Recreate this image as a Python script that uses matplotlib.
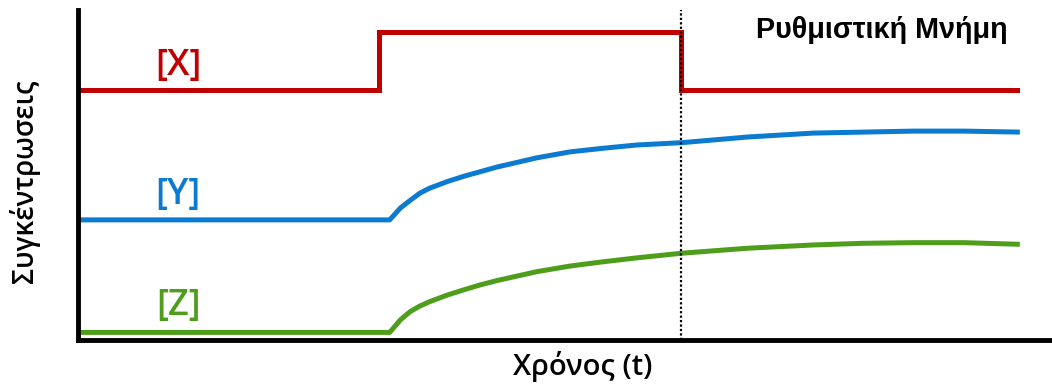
import matplotlib
matplotlib.use("Agg")
import matplotlib.pyplot as plt

# ---- data ----
x_time = [0.0, 30.9, 30.9, 61.9, 61.9, 96.4]
x_conc = [75.8, 75.8, 93.4, 93.4, 75.8, 75.8]

yz_time = [0.0, 32.0, 33.1, 34.1, 35.1, 36.1, 37.9, 39.6, 41.3, 43.0, 47.1,
           50.5, 53.9, 57.4, 62.0, 68.7, 75.5, 80.6, 85.8, 90.9, 96.7]
y_conc = [36.4, 36.4, 40.0, 42.3, 44.5, 46.0, 48.0, 49.6, 51.0, 52.4, 55.2,
          57.0, 58.1, 59.1, 59.8, 61.5, 62.7, 63.0, 63.3, 63.3, 63.0]
z_conc = [2.3, 2.3, 6.1, 8.6, 10.3, 11.6, 13.6, 15.2, 16.7, 18.0, 20.7,
          22.4, 23.7, 24.9, 26.3, 27.8, 28.8, 29.3, 29.5, 29.5, 29.0]

memory_time = 61.9
labels = ["[X]", "[Y]", "[Z]"]
colors = ["#C00000", "#0A7BD0", "#4E9E1C"]

title = "Ρυθμιστική Μνήμη"
xlabel = "Χρόνος (t)"
ylabel = "Συγκέντρωσεις"

plt.rcParams['font.family'] = ['Open Sans', 'DejaVu Sans']

fig = plt.figure(figsize=(10.52, 3.86), dpi=100)
ax = fig.add_axes([78/1052, 46/386, 974/1052, 330/386])
ax.set_xlim(0, 100)
ax.set_ylim(0, 100)

lw = 3.6
ax.plot(x_time, x_conc, color=colors[0], lw=lw, solid_joinstyle='miter')
ax.plot(yz_time, y_conc, color=colors[1], lw=lw, solid_capstyle='butt')
ax.plot(yz_time, z_conc, color=colors[2], lw=lw, solid_capstyle='butt')
ax.axvline(memory_time, color='black', lw=1.6, ls=(0, (1, 1)), zorder=5)

label_y = [83.0, 43.9, 10.3]
for lab, c, yy in zip(labels, colors, label_y):
    ax.text(10.3, yy, lab, color=c, fontsize=26, fontweight='semibold',
            ha='center', va='center')

ax.text(82.5, 91.5, title, fontsize=20.7, fontweight='bold', ha='center',
        va='baseline', family=['Liberation Sans', 'DejaVu Sans'])
fig.text(583/1052, 1 - 367/386, xlabel, fontsize=21, fontweight='semibold',
         ha='center', va='center')
fig.text(25/1052, 1 - 181/386, ylabel, fontsize=20, fontweight='semibold',
         ha='center', va='center', rotation=90)

for s in ['top', 'right']:
    ax.spines[s].set_visible(False)
for s in ['left', 'bottom']:
    ax.spines[s].set_linewidth(3.5)
    ax.spines[s].set_color('black')
ax.set_xticks([])
ax.set_yticks([])

fig.savefig("out.png", dpi=100)
